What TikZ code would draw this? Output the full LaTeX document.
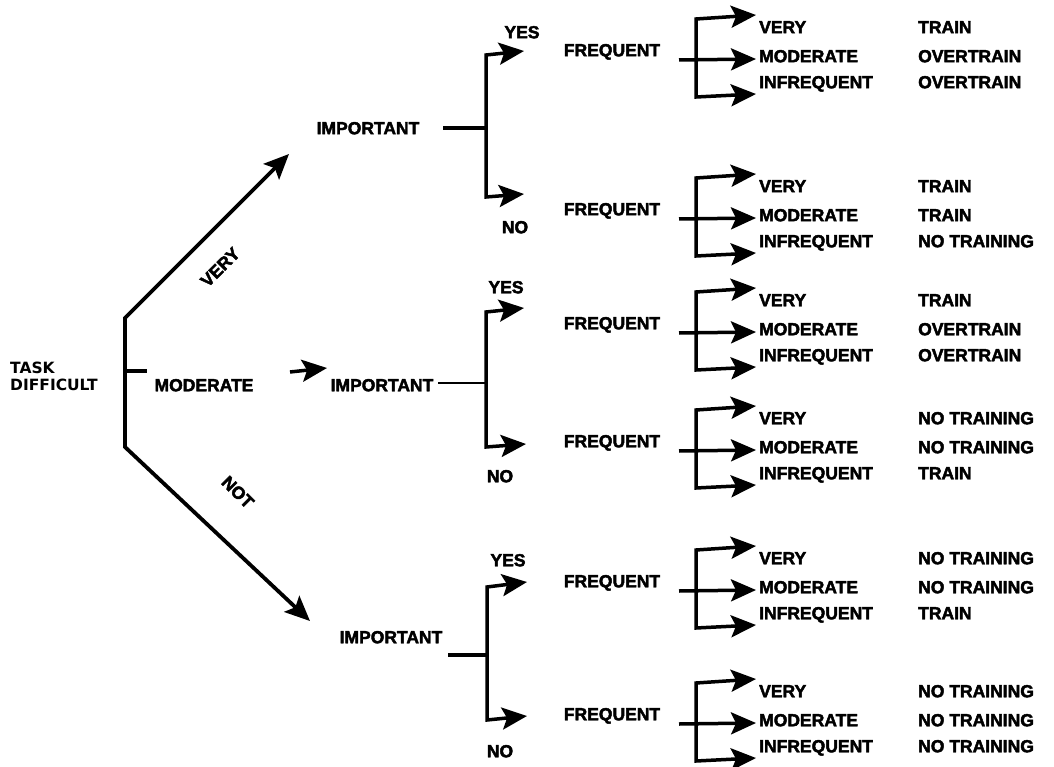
\documentclass[tikz,border=0pt]{standalone}
\usepackage{fontspec}
\setmainfont{Liberation Sans}[BoldFeatures={FakeBold=2.5}]
\newfontfamily\rootfont{DejaVu Sans}
\usetikzlibrary{arrows.meta}
\tikzset{
  lab/.style={font=\fontsize{17.5}{20}\selectfont\bfseries, inner sep=0pt, text height=12.5pt, text depth=0pt},
  conn/.style={line width=3.5pt, line join=miter},
  tipA/.tip={Stealth[length=25pt,width=22pt,inset=5pt]},
  arr/.style={conn, -tipA},
  barr/.style={conn, tipA-tipA},
}
\newcommand\freqgroup[5]{%
  \node[lab] (#1F) at (612,{#2+31}) {FREQUENT};
  \coordinate (#1s) at (679,{#2+41});
  \coordinate (#1t) at (696,#2);
  \coordinate (#1b) at (696,{#2+78});
  \coordinate (#1tt) at (756,{#2-4});
  \coordinate (#1mt) at (756,{#2+40});
  \coordinate (#1bt) at (756,{#2+75});
  \node[lab,anchor=west] (#1v) at (759,{#2+8}) {VERY};
  \node[lab,anchor=west] (#1m) at (759,{#2+37}) {MODERATE};
  \node[lab,anchor=west] (#1i) at (759,{#2+63}) {INFREQUENT};
  \node[lab,anchor=west] (#1ra) at (918,{#2+8}) {#3};
  \node[lab,anchor=west] (#1rb) at (918,{#2+37}) {#4};
  \node[lab,anchor=west] (#1rc) at (918,{#2+63}) {#5};
  \draw[barr] (#1tt) -- (#1t) -- (#1b) -- (#1bt);
  \draw[arr] (#1s) -- (#1mt);
}
\begin{document}
\begin{tikzpicture}[x=1pt,y=-1pt]
\useasboundingbox (0,0) rectangle (1054,767);

% root
\node[font=\rootfont\fontsize{15.5}{17}\selectfont\bfseries, inner sep=0pt, anchor=west, align=left] (task) at (10,376) {TASK\\DIFFICULT};
\coordinate (rt) at (125,318);
\coordinate (rb) at (125,447);
\coordinate (rm) at (125,371);
\coordinate (rmt) at (147,371);
\coordinate (d1) at (289,154);
\coordinate (d3) at (310,621);
\draw[barr, line width=3.8pt, tipA-tipA] (d1) -- (rt) -- (rb) -- (d3);
\draw[conn, line width=4.5pt] (rm) -- (rmt);
\node[lab, rotate=45] (lvery) at (220,267) {VERY};
\node[lab, rotate=-45] (lnot) at (238,492) {NOT};
\node[lab] (lmod) at (204,385) {MODERATE};
\coordinate (ma1) at (290,372);
\coordinate (ma2) at (327,368);
\draw[arr] (ma1) -- (ma2);

% important nodes
\node[lab] (imp1) at (368,128) {IMPORTANT};
\node[lab] (imp2) at (382,385) {IMPORTANT};
\node[lab] (imp3) at (391,637) {IMPORTANT};

% top important bracket
\coordinate (i1s) at (443,128);
\coordinate (i1m) at (486,128);
\coordinate (i1t) at (486,55);
\coordinate (i1b) at (486,197);
\coordinate (i1yt) at (524,51);
\coordinate (i1nt) at (524,194);
\draw[conn] (i1s) -- (i1m);
\draw[barr] (i1yt) -- (i1t) -- (i1b) -- (i1nt);
\node[lab] (yes1) at (522,32) {YES};
\node[lab] (no1) at (515,227) {NO};

% middle important bracket
\coordinate (i2s) at (438,383);
\coordinate (i2m) at (486,383);
\coordinate (i2t) at (486,312);
\coordinate (i2b) at (486,447);
\coordinate (i2yt) at (524,308);
\coordinate (i2nt) at (526,444);
\draw[conn, line width=2.2pt] (i2s) -- (i2m);
\draw[barr] (i2yt) -- (i2t) -- (i2b) -- (i2nt);
\node[lab] (yes2) at (506,287) {YES};
\node[lab] (no2) at (500,476) {NO};

% bottom important bracket
\coordinate (i3s) at (448,655);
\coordinate (i3m) at (487,655);
\coordinate (i3t) at (487,587);
\coordinate (i3b) at (487,720);
\coordinate (i3yt) at (527,582);
\coordinate (i3nt) at (527,716);
\draw[conn] (i3s) -- (i3m);
\draw[barr] (i3yt) -- (i3t) -- (i3b) -- (i3nt);
\node[lab] (yes3) at (508,560) {YES};
\node[lab] (no3) at (500,751) {NO};

% frequency groups
\freqgroup{ga}{19}{TRAIN}{OVERTRAIN}{OVERTRAIN}
\freqgroup{gb}{178}{TRAIN}{TRAIN}{NO TRAINING}
\freqgroup{gc}{292}{TRAIN}{OVERTRAIN}{OVERTRAIN}
\freqgroup{gd}{410}{NO TRAINING}{NO TRAINING}{TRAIN}
\freqgroup{ge}{550}{NO TRAINING}{NO TRAINING}{TRAIN}
\freqgroup{gf}{683}{NO TRAINING}{NO TRAINING}{NO TRAINING}
\end{tikzpicture}
\end{document}
